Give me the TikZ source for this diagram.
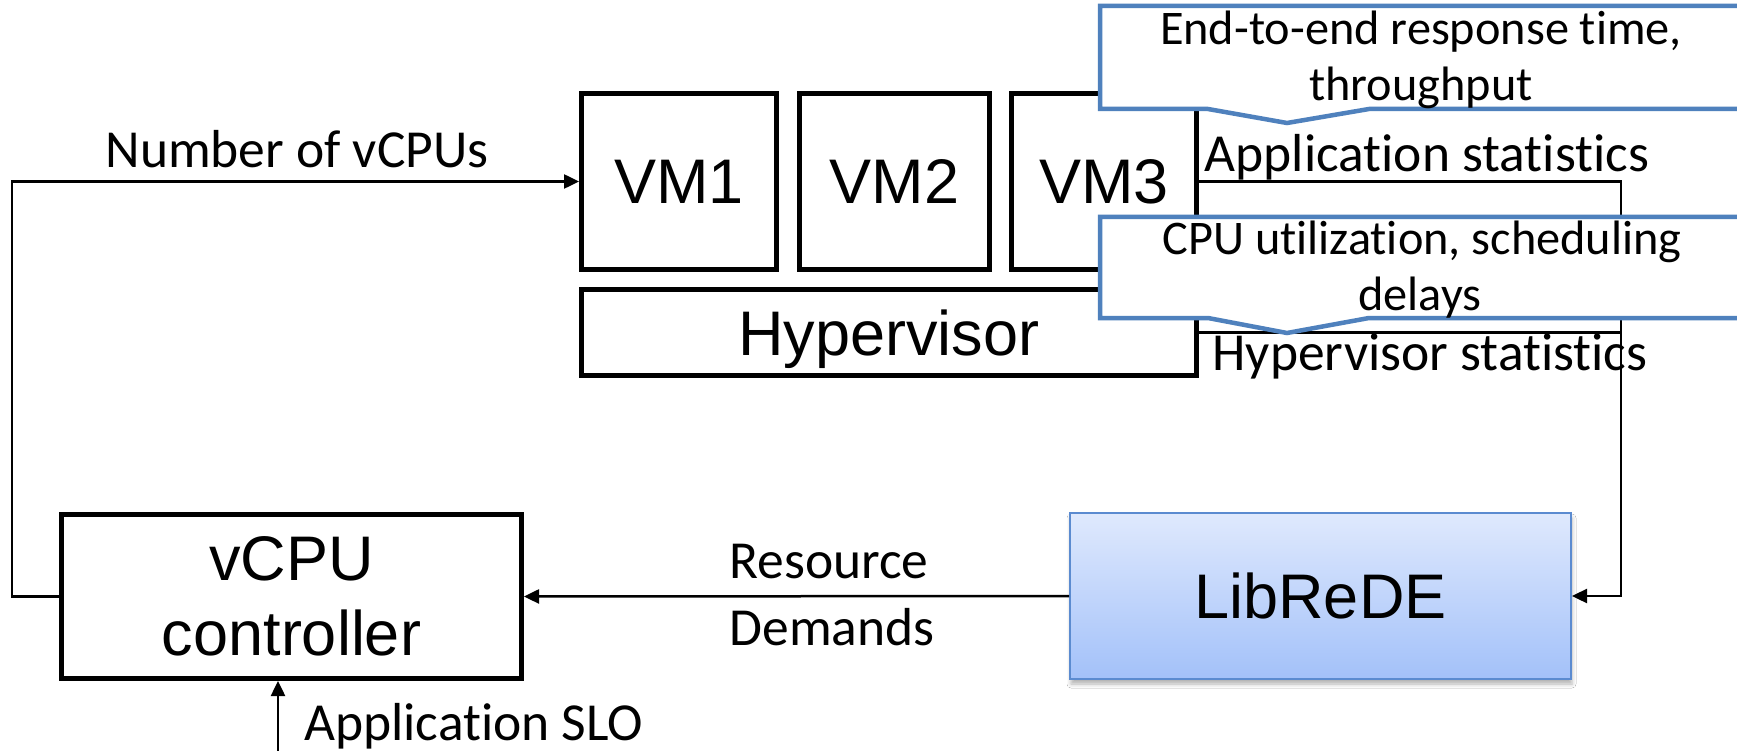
\documentclass[tikz,border=0pt]{standalone}
\usepackage{fontspec}
\setmainfont{Carlito}[RawFeature={-liga;-clig;-calt;-dlig}]
\newfontfamily\boxfont{Liberation Sans}
\usetikzlibrary{arrows.meta,shadows.blur}
\definecolor{calloutblue}{HTML}{4F81BD}
\definecolor{libtop}{HTML}{DFE9FD}
\definecolor{libbot}{HTML}{A3C1F9}
\definecolor{libedge}{HTML}{5B8BD0}

\begin{document}
\begin{tikzpicture}[x=1pt,y=-1pt,
  blk/.style={draw=black, line width=5pt, fill=white, inner sep=0pt,
    font=\boxfont\fontsize{63}{75}\selectfont, text depth=0pt, align=center},
  lbl/.style={font=\fontsize{53.5}{58}\selectfont, inner sep=0pt},
  ctext/.style={font=\fontsize{48.3}{54}\selectfont, inner sep=0pt},
  conn/.style={draw=black, line width=2.5pt},
  arr/.style={conn, -{Triangle[length=15pt,width=14pt]}},
  callout/.style={draw=calloutblue, line width=4.5pt, fill=white, line join=miter}
]
\clip (0,0) rectangle (1737,751);
\fill[white] (0,0) rectangle (1737,751);

% virtual machines and hypervisor
\node[blk, minimum width=195pt, minimum height=176pt] (vm1) at (679,181.5) {VM1};
\node[blk, minimum width=190pt, minimum height=176pt] (vm2) at (894.5,181.5) {VM2};
\node[blk, minimum width=185pt, minimum height=176pt] (vm3) at (1104,181.5) {VM3};
\node[blk, minimum width=615pt, minimum height=86pt] (hyp) at (889,332.5) {Hypervisor};

% controller and estimation library
\node[blk, minimum width=460pt, minimum height=164pt] (ctrl) at (291.5,596.5) {vCPU\\controller};
\node[draw=libedge, line width=2pt, top color=libtop, bottom color=libbot,
      blur shadow={shadow xshift=1pt, shadow yshift=-5pt, shadow blur radius=4pt, shadow opacity=30},
      font=\boxfont\fontsize{63}{75}\selectfont, text depth=0pt, inner sep=0pt,
      minimum width=501pt, minimum height=166pt] (lib) at (1320.5,596) {LibReDE};

% feedback loop
\coordinate (lft) at (12,596.5);
\coordinate (rgt) at (1621,181.5);
\coordinate (slo) at (278,751);
\draw[arr] (ctrl.west) -- (lft) |- (vm1.west);
\draw[arr] (vm3.east) -- (rgt) |- (lib.east);
\draw[conn] (hyp.east) -- (hyp.east -| rgt);
\draw[arr] (lib.west) -- (ctrl.east);
\draw[arr] (slo) -- (slo |- ctrl.south);

% connector labels
\node[lbl, anchor=base] (nv) at (297,168) {Number of vCPUs};
\node[lbl, anchor=base] (as) at (1427,172) {Application statistics};
\node[lbl, anchor=base] (hs) at (1430,370) {Hypervisor statistics};
\node[lbl, anchor=base] (rd1) at (829,578) {Resource};
\node[lbl, anchor=base] (rd2) at (832,645) {Demands};
\node[lbl, anchor=base west] (slotext) at (304,740) {Application SLO};

% callouts
\draw[callout] (1100,6) -- (1745,6) -- (1745,109) -- (1369,109) -- (1287,123) -- (1208,109) -- (1100,109) -- cycle;
\node[ctext, anchor=base] (c1a) at (1421,45) {End-to-end response time,};
\node[ctext, anchor=base] (c1b) at (1421,101) {throughput};
\draw[callout] (1100,217) -- (1745,217) -- (1745,318) -- (1369,318) -- (1287,333) -- (1208,318) -- (1100,318) -- cycle;
\node[ctext, anchor=base] (c2a) at (1422,255) {CPU utilization, scheduling};
\node[ctext, anchor=base] (c2b) at (1420,310) {delays};
\end{tikzpicture}
\end{document}
